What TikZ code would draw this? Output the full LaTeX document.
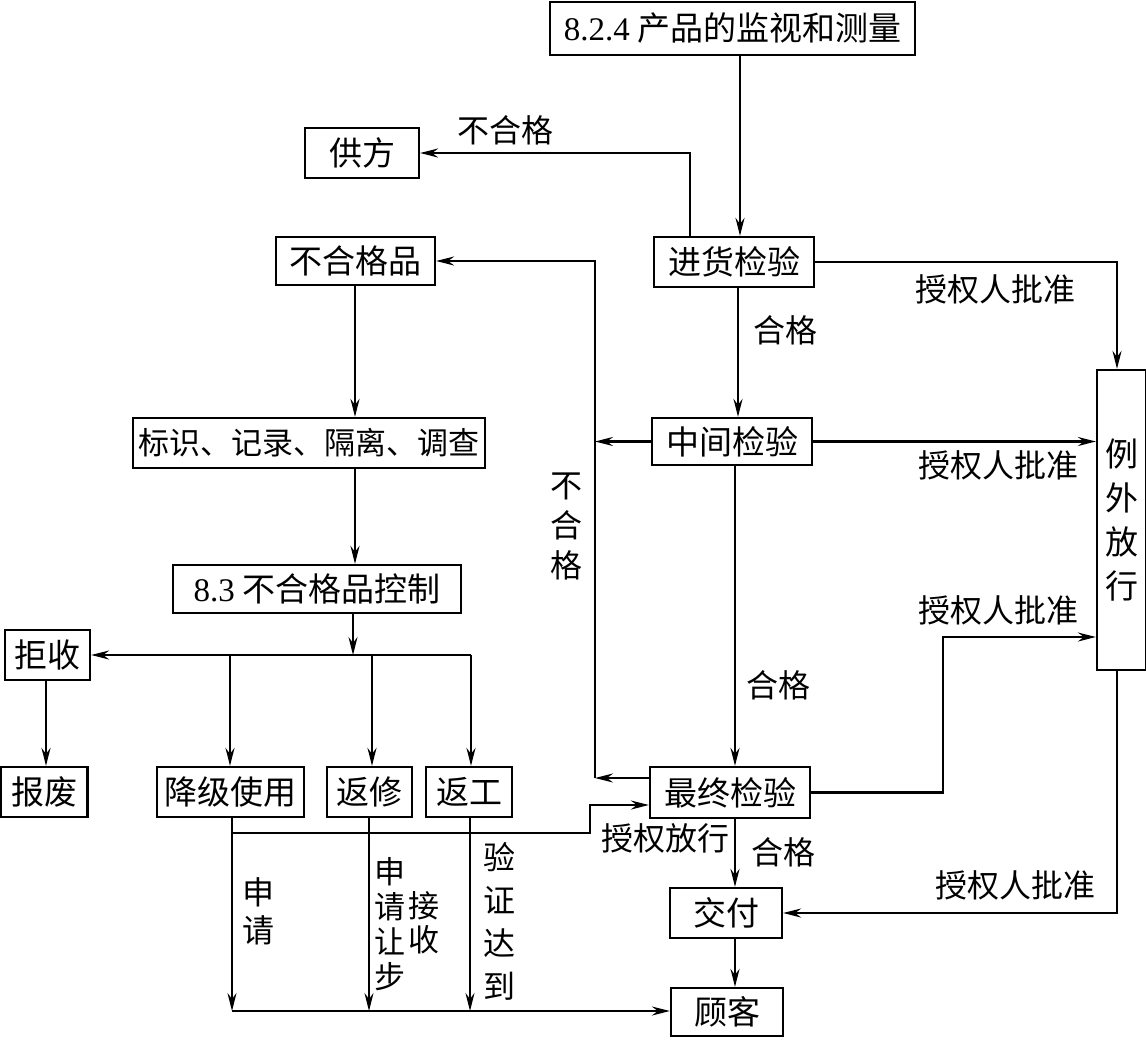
\documentclass[tikz,border=0pt]{standalone}
\usepackage{fontspec}
\setmainfont{Liberation Serif}
\newfontfamily\cjk{Noto Sans CJK SC}
\usetikzlibrary{arrows.meta}
\begin{document}
\begin{tikzpicture}[x=0.5pt,y=-0.5pt,
  line width=1.1pt,
  font=\fontsize{16.5}{20}\selectfont\cjk,
  box/.style={draw,line width=1.1pt,inner sep=0pt,align=center},
  arr/.style={-{Stealth[length=9pt,width=4.5pt,inset=3pt]}},
  lab/.style={inner sep=0pt,font=\fontsize{16}{19}\selectfont\cjk},
  vlab/.style={inner sep=0pt,align=center}]
\useasboundingbox (0,0) rectangle (1146,1039);
% nodes
\node[box,minimum width=182.5pt,minimum height=26.5pt] (top) at (732.5,28.5) {{\rmfamily 8.2.4} 产品的监视和测量};
\node[box,minimum width=57pt,minimum height=25pt] (gf) at (362,153) {供方};
\node[box,minimum width=79.5pt,minimum height=24pt] (bhgp) at (355.5,261) {不合格品};
\node[box,minimum width=80pt,minimum height=25pt] (jh) at (734,262) {进货检验};
\node[box,minimum width=176pt,minimum height=25pt,font=\fontsize{15.5}{19}\selectfont\cjk] (bs) at (309,443) {标识、记录、隔离、调查};
\node[box,minimum width=80pt,minimum height=23.5pt] (zj) at (732,441.5) {中间检验};
\node[box,minimum width=144pt,minimum height=24pt] (kz) at (317,589) {{\rmfamily 8.3} 不合格品控制};
\node[box,minimum width=24.5pt,minimum height=150pt,font=\fontsize{16.5}{22}\selectfont\cjk] (lw) at (1121.5,520) {例\\外\\放\\行};
\node[box,minimum width=42.5pt,minimum height=25pt] (js) at (47.5,655) {拒收};
\node[box,minimum width=43.5pt,minimum height=25pt] (bf) at (44,792) {报废};
\node[box,minimum width=73.5pt,minimum height=25pt] (jj) at (230.5,792) {降级使用};
\node[box,minimum width=42.5pt,minimum height=25pt] (fx) at (369.5,792) {返修};
\node[box,minimum width=43pt,minimum height=25pt] (fg) at (469,792) {返工};
\node[box,minimum width=80pt,minimum height=25.5pt] (zz) at (730,792.5) {最终检验};
\node[box,minimum width=56pt,minimum height=25pt] (jf) at (726,913) {交付};
\node[box,minimum width=56pt,minimum height=24pt] (gk) at (727,1012) {顾客};
% coordinates
\coordinate (j1) at (595,778);
\coordinate (hb) at (471,655);
\coordinate (b1) at (232,1011);
% labels
\node[lab] (l1) at (505,130) {不合格};
\node[lab] (l2) at (785,330) {合格};
\node[lab] (l3) at (778,685) {合格};
\node[lab] (l4) at (783,852) {合格};
\node[lab] (l5) at (995,289) {授权人批准};
\node[lab] (l6) at (998,465) {授权人批准};
\node[lab] (l7) at (998,610) {授权人批准};
\node[lab] (l8) at (1015,885) {授权人批准};
\node[lab] (l9) at (665,838) {授权放行};
\node[vlab,font=\fontsize{16}{20}\selectfont\cjk] (v1) at (566,526) {不\\合\\格};
\node[vlab,font=\fontsize{16}{19}\selectfont\cjk] (v2) at (258,911) {申\\请};
\node[vlab,font=\fontsize{15.5}{17.5}\selectfont\cjk] (v3) at (390,924) {申\\请\\让\\步};
\node[vlab,font=\fontsize{15.5}{17}\selectfont\cjk] (v4) at (424,923) {接\\收};
\node[vlab,font=\fontsize{16}{21.5}\selectfont\cjk] (v5) at (499,921) {验\\证\\达\\到};
% connectors
\draw[arr] (740,0 |- top.south) -- (740,0 |- jh.north);
\draw[arr] (690,0 |- jh.north) |- (gf.east);
\draw[arr] (738,0 |- jh.south) -- (738,0 |- zj.north);
\draw[arr] (735,0 |- zj.south) -- (735,0 |- zz.north);
\draw[arr] (zj.west) -- (595,0 |- zj.west);
\draw[arr] (zz.west |- j1) -- (j1);
\draw[arr] (j1) |- (bhgp.east);
\draw[arr] (jh.east) -| (1117,0 |- lw.north);
\draw[arr] (zj.east) -- (lw.west |- zj.east);
\draw[arr] (zz.east) -- (943,0 |- zz.east) |- (lw.west |- 0,637);
\draw[arr] (1117,0 |- lw.south) |- (jf.east);
\draw[arr] (355,0 |- bhgp.south) -- (355,0 |- bs.north);
\draw[arr] (355,0 |- bs.south) -- (355,0 |- kz.north);
\draw[arr] (353,0 |- kz.south) -- (353,655);
\draw[arr] (hb) -- (js.east);
\draw[arr] (hb) -- (hb |- fg.north);
\draw[arr] (230,655) -- (230,0 |- jj.north);
\draw[arr] (372,655) -- (372,0 |- fx.north);
\draw[arr] (46,0 |- js.south) -- (46,0 |- bf.north);
\draw[arr] (232,0 |- jj.south) -- (b1);
\draw[arr] (369,0 |- fx.south) -- (369,1011);
\draw[arr] (470,0 |- fg.south) -- (470,1011);
\draw[arr] (b1) -- (gk.west |- b1);
\draw[arr] (232,833) -- (590,833) -- (590,805) -- (zz.west |- 0,805);
\draw[arr] (735,0 |- zz.south) -- (735,0 |- jf.north);
\draw[arr] (735,0 |- jf.south) -- (735,0 |- gk.north);
\end{tikzpicture}
\end{document}
